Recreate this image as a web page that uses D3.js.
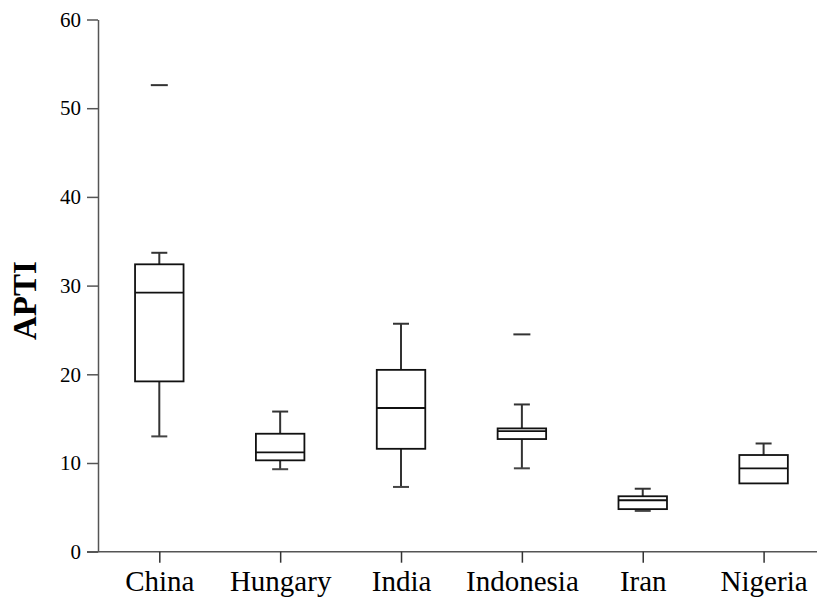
<!DOCTYPE html>
<html>
<head>
<meta charset="utf-8">
<script src="https://cdn.jsdelivr.net/npm/d3@7"></script>
<style>
  html, body { margin: 0; padding: 0; background: #fff; }
  svg { display: block; }
  text { font-family: "Liberation Serif", "Times New Roman", serif; fill: #000; }
</style>
</head>
<body>
<svg id="chart" width="817" height="599"></svg>
<script>
// ---- data ----
const categories  = ["China", "Hungary", "India", "Indonesia", "Iran", "Nigeria"];
const whiskerLow  = [13.0, 9.3, 7.3, 9.4, 4.6, 7.7];
const q1          = [19.2, 10.3, 11.6, 12.7, 4.8, 7.7];
const medians     = [29.2, 11.2, 16.2, 13.6, 5.8, 9.4];
const q3          = [32.4, 13.3, 20.5, 13.9, 6.25, 10.9];
const whiskerHigh = [33.7, 15.8, 25.7, 16.6, 7.1, 12.2];
const outliers    = [[52.6], [], [], [24.5], [], []];
const yTicks      = [0, 10, 20, 30, 40, 50, 60];
const yLabel      = "APTI";

const svg = d3.select("#chart");
const serif = "Liberation Serif";

const x = d3.scalePoint().domain(categories).range([159.3, 763.6]);
const y = d3.scaleLinear().domain([0, 60]).range([551.7, 19.5]);

const boxW = 48.5, capW = 16, outW = 17;

// axes
const yAxis = d3.axisLeft(y).tickValues(yTicks).tickSize(11).tickPadding(6).tickSizeOuter(0);
const gy = svg.append("g").attr("transform", "translate(98,0)").call(yAxis)
  .attr("font-family", serif).attr("font-size", 21);
gy.select(".domain").attr("stroke", "#555").attr("stroke-width", 1.5);
gy.selectAll(".tick line").attr("stroke", "#555").attr("stroke-width", 1.5);
gy.selectAll(".tick text").style("font-family", serif).style("font-size", "21px").attr("fill", "#000");

const xAxis = d3.axisBottom(x).tickSize(11).tickPadding(8).tickSizeOuter(0);
const gx = svg.append("g").attr("transform", `translate(0,${y(0)})`).call(xAxis)
  .attr("font-family", serif).attr("font-size", 29);
gx.select(".domain").attr("d", `M87,0H817`).attr("stroke", "#555").attr("stroke-width", 1.5);
gx.selectAll(".tick line").attr("stroke", "#333").attr("stroke-width", 1.5);
gx.selectAll(".tick text").style("font-family", serif).style("font-size", "29px").attr("fill", "#000");

// y label
svg.append("text")
  .attr("transform", `translate(36,${y(28.3)}) rotate(-90)`)
  .attr("text-anchor", "middle")
  .style("font-family", serif)
  .style("font-size", "33px").style("font-weight", "bold")
  .text(yLabel);

// boxes
const data = categories.map((c, i) => ({
  c, lo: whiskerLow[i], q1: q1[i], med: medians[i], q3: q3[i], hi: whiskerHigh[i], out: outliers[i]
}));

const g = svg.append("g");
const b = g.selectAll("g.box").data(data).join("g").attr("class", "box");

// whiskers
b.filter(d => d.hi > d.q3).append("line")
  .attr("x1", d => x(d.c)).attr("x2", d => x(d.c))
  .attr("y1", d => y(d.q3)).attr("y2", d => y(d.hi))
  .attr("stroke", "#333").attr("stroke-width", 2);
b.filter(d => d.hi > d.q3).append("line")
  .attr("x1", d => x(d.c) - capW / 2).attr("x2", d => x(d.c) + capW / 2)
  .attr("y1", d => y(d.hi)).attr("y2", d => y(d.hi))
  .attr("stroke", "#333").attr("stroke-width", 2);
b.filter(d => d.lo < d.q1).append("line")
  .attr("x1", d => x(d.c)).attr("x2", d => x(d.c))
  .attr("y1", d => y(d.q1)).attr("y2", d => y(d.lo))
  .attr("stroke", "#333").attr("stroke-width", 2);
b.filter(d => d.lo < d.q1).append("line")
  .attr("x1", d => x(d.c) - capW / 2).attr("x2", d => x(d.c) + capW / 2)
  .attr("y1", d => y(d.lo)).attr("y2", d => y(d.lo))
  .attr("stroke", "#444").attr("stroke-width", 2);

// box
b.append("rect")
  .attr("x", d => x(d.c) - boxW / 2).attr("width", boxW)
  .attr("y", d => y(d.q3)).attr("height", d => y(d.q1) - y(d.q3))
  .attr("fill", "#fff").attr("stroke", "#111").attr("stroke-width", 1.8);
// median
b.append("line")
  .attr("x1", d => x(d.c) - boxW / 2).attr("x2", d => x(d.c) + boxW / 2)
  .attr("y1", d => y(d.med)).attr("y2", d => y(d.med))
  .attr("stroke", "#111").attr("stroke-width", 1.8);

// outliers
b.selectAll("line.out").data(d => d.out.map(v => ({ c: d.c, v }))).join("line")
  .attr("class", "out")
  .attr("x1", d => x(d.c) - outW / 2).attr("x2", d => x(d.c) + outW / 2)
  .attr("y1", d => y(d.v)).attr("y2", d => y(d.v))
  .attr("stroke", "#333").attr("stroke-width", 2);
</script>
</body>
</html>
